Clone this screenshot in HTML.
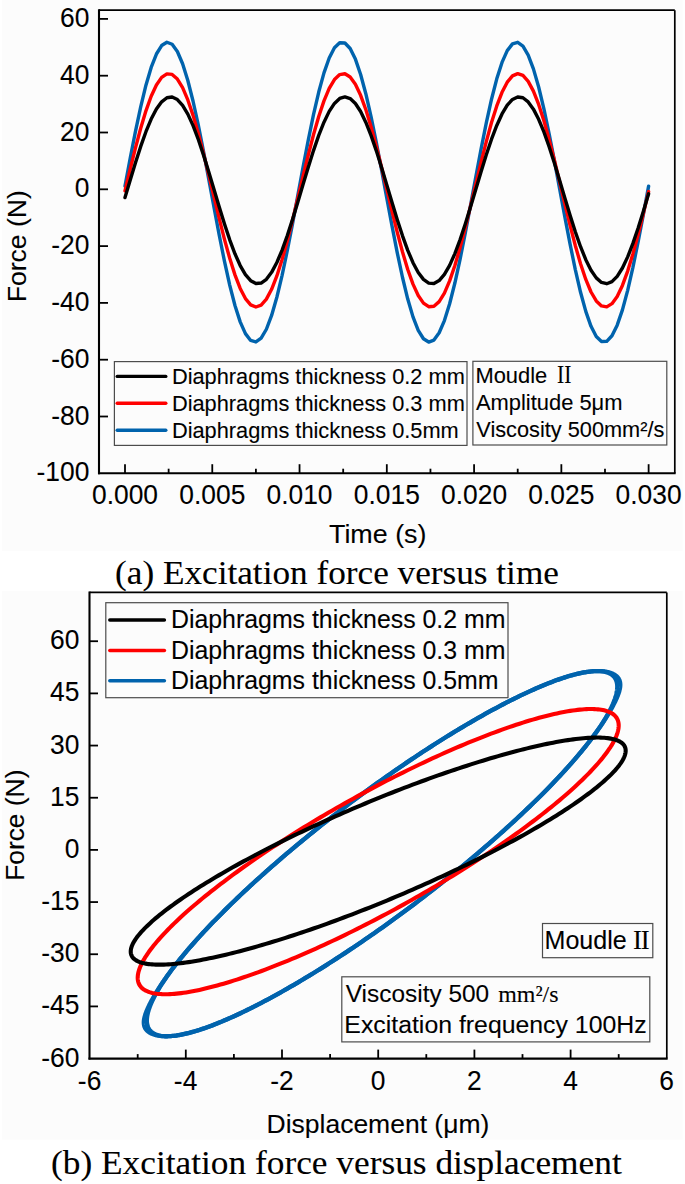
<!DOCTYPE html>
<html><head><meta charset="utf-8"><style>
html,body{margin:0;padding:0;background:#fff;}
svg{display:block;}

</style></head><body>
<svg width="685" height="1184" viewBox="0 0 685 1184">
<rect x="0" y="0" width="685" height="1184" fill="#ffffff"/>
<rect x="2" y="0" width="680.5" height="551" fill="#fcfcfc"/>
<rect x="2" y="591" width="680.5" height="548.5" fill="#fcfcfc"/>
<polyline points="125.00,186.14 130.24,158.17 135.47,131.41 140.71,106.79 145.94,85.20 151.18,67.40 156.42,54.01 161.65,45.52 166.89,42.23 172.13,44.24 177.36,51.49 182.60,63.73 187.83,80.51 193.07,101.25 198.31,125.21 203.54,151.54 208.78,179.31 214.02,207.53 219.25,235.21 224.49,261.36 229.72,285.06 234.96,305.47 240.20,321.86 245.43,333.66 250.67,340.44 255.91,341.97 261.14,338.19 266.38,329.24 271.61,315.43 276.85,297.26 282.09,275.36 287.32,250.51 292.56,223.59 297.79,195.56 303.03,167.41 308.27,140.14 313.50,114.70 318.74,92.01 323.98,72.87 329.21,57.95 334.45,47.79 339.68,42.74 344.92,42.98 350.16,48.51 355.39,59.12 360.63,74.45 365.87,93.94 371.10,116.92 376.34,142.56 381.57,169.95 386.81,198.14 392.05,226.11 397.28,252.87 402.52,277.49 407.75,299.08 412.99,316.88 418.23,330.27 423.46,338.76 428.70,342.05 433.94,340.04 439.17,332.79 444.41,320.55 449.64,303.77 454.88,283.03 460.12,259.07 465.35,232.74 470.59,204.97 475.83,176.75 481.06,149.07 486.30,122.92 491.53,99.22 496.77,78.81 502.01,62.42 507.24,50.62 512.48,43.84 517.71,42.31 522.95,46.09 528.19,55.04 533.42,68.85 538.66,87.02 543.90,108.92 549.13,133.77 554.37,160.69 559.60,188.72 564.84,216.87 570.08,244.14 575.31,269.58 580.55,292.27 585.79,311.41 591.02,326.33 596.26,336.49 601.49,341.54 606.73,341.30 611.97,335.77 617.20,325.16 622.44,309.83 627.68,290.34 632.91,267.36 638.15,241.72 643.38,214.33 648.62,186.14" fill="none" stroke="#0063ad" stroke-width="3.4" stroke-linejoin="round" stroke-linecap="round"/>
<polyline points="125.00,190.88 130.24,169.00 135.47,147.88 140.71,128.26 145.94,110.84 151.18,96.23 156.42,84.95 161.65,77.40 166.89,73.84 172.13,74.41 177.36,79.08 182.60,87.69 187.83,99.93 193.07,115.37 198.31,133.47 203.54,153.57 208.78,174.97 214.02,196.92 219.25,218.63 224.49,239.34 229.72,258.32 234.96,274.88 240.20,288.45 245.43,298.54 250.67,304.81 255.91,307.02 261.14,305.09 266.38,299.10 271.61,289.26 276.85,275.92 282.09,259.54 287.32,240.72 292.56,220.10 297.79,198.44 303.03,176.48 308.27,155.01 313.50,134.80 318.74,116.54 323.98,100.90 329.21,88.42 334.45,79.55 339.68,74.60 344.92,73.75 350.16,77.02 355.39,84.30 360.63,95.34 365.87,109.73 371.10,126.98 376.34,146.47 381.57,167.51 386.81,189.36 392.05,211.24 397.28,232.38 402.52,252.03 407.75,269.49 412.99,284.15 418.23,295.49 423.46,303.10 428.70,306.72 433.94,306.22 439.17,301.61 444.41,293.06 449.64,280.88 454.88,265.48 460.12,247.43 465.35,227.35 470.59,205.96 475.83,184.02 481.06,162.29 486.30,141.56 491.53,122.56 496.77,105.95 502.01,92.33 507.24,82.17 512.48,75.85 517.71,73.58 522.95,75.43 528.19,81.36 533.42,91.14 538.66,104.43 543.90,120.76 549.13,139.56 554.37,160.15 559.60,181.80 564.84,203.76 570.08,225.24 575.31,245.48 580.55,263.77 585.79,279.46 591.02,291.99 596.26,300.92 601.49,305.94 606.73,306.86 611.97,303.65 617.20,296.43 622.44,285.45 627.68,271.11 632.91,253.90 638.15,234.44 643.38,213.42 648.62,191.58" fill="none" stroke="#ff0000" stroke-width="3.4" stroke-linejoin="round" stroke-linecap="round"/>
<polyline points="125.00,197.57 130.24,179.95 135.47,162.70 140.71,146.43 145.94,131.72 151.18,119.09 156.42,109.00 161.65,101.79 166.89,97.74 172.13,96.98 177.36,99.54 182.60,105.33 187.83,114.14 193.07,125.66 198.31,139.48 203.54,155.10 208.78,171.98 214.02,189.51 219.25,207.07 224.49,224.03 229.72,239.79 234.96,253.79 240.20,265.53 245.43,274.60 250.67,280.66 255.91,283.51 261.14,283.05 266.38,279.28 271.61,272.35 276.85,262.50 282.09,250.08 287.32,235.53 292.56,219.38 297.79,202.19 303.03,184.57 308.27,167.16 313.50,150.58 318.74,135.40 323.98,122.18 329.21,111.38 334.45,103.39 339.68,98.49 344.92,96.86 350.16,98.55 355.39,103.50 360.63,111.55 365.87,122.39 371.10,135.65 376.34,150.85 381.57,167.46 386.81,184.88 392.05,202.49 397.28,219.67 402.52,235.80 407.75,250.31 412.99,262.69 418.23,272.50 423.46,279.37 428.70,283.08 433.94,283.49 439.17,280.59 444.41,274.47 449.64,265.35 454.88,253.57 460.12,239.53 465.35,223.75 470.59,206.77 475.83,189.21 481.06,171.68 486.30,154.82 491.53,139.22 496.77,125.44 502.01,113.96 507.24,105.20 512.48,99.47 517.71,96.97 522.95,97.78 528.19,101.89 533.42,109.15 538.66,119.29 543.90,131.96 549.13,146.70 554.37,162.99 559.60,180.26 564.84,197.88 570.08,215.23 575.31,231.70 580.55,246.69 585.79,259.67 591.02,270.19 596.26,277.87 601.49,282.43 606.73,283.71 611.97,281.67 617.20,276.38 622.44,268.02 627.68,256.90 632.91,243.41 638.15,228.03 643.38,211.31 648.62,193.84" fill="none" stroke="#000000" stroke-width="3.4" stroke-linejoin="round" stroke-linecap="round"/>
<line x1="99.00" y1="10.20" x2="674.80" y2="10.20" stroke="#000" stroke-width="1.7" stroke-linecap="butt"/>
<line x1="674.80" y1="10.20" x2="674.80" y2="473.20" stroke="#000" stroke-width="1.7" stroke-linecap="butt"/>
<line x1="99.00" y1="9.35" x2="99.00" y2="474.20" stroke="#000" stroke-width="2.1" stroke-linecap="butt"/>
<line x1="98.00" y1="473.20" x2="675.65" y2="473.20" stroke="#000" stroke-width="2.1" stroke-linecap="butt"/>
<line x1="99.00" y1="18.90" x2="108.00" y2="18.90" stroke="#000" stroke-width="1.8" stroke-linecap="butt"/>
<text x="60.07" y="26.90" style='font-family:"Liberation Sans", sans-serif' font-size="27.60" textLength="29.36" lengthAdjust="spacingAndGlyphs" fill="#000" stroke="#000" stroke-width="0.1">60</text>
<line x1="99.00" y1="75.70" x2="108.00" y2="75.70" stroke="#000" stroke-width="1.8" stroke-linecap="butt"/>
<text x="60.07" y="83.70" style='font-family:"Liberation Sans", sans-serif' font-size="27.60" textLength="29.36" lengthAdjust="spacingAndGlyphs" fill="#000" stroke="#000" stroke-width="0.1">40</text>
<line x1="99.00" y1="132.50" x2="108.00" y2="132.50" stroke="#000" stroke-width="1.8" stroke-linecap="butt"/>
<text x="60.07" y="140.50" style='font-family:"Liberation Sans", sans-serif' font-size="27.60" textLength="29.36" lengthAdjust="spacingAndGlyphs" fill="#000" stroke="#000" stroke-width="0.1">20</text>
<line x1="99.00" y1="189.30" x2="108.00" y2="189.30" stroke="#000" stroke-width="1.8" stroke-linecap="butt"/>
<text x="74.75" y="197.30" style='font-family:"Liberation Sans", sans-serif' font-size="27.60" textLength="14.68" lengthAdjust="spacingAndGlyphs" fill="#000" stroke="#000" stroke-width="0.1">0</text>
<line x1="99.00" y1="246.10" x2="108.00" y2="246.10" stroke="#000" stroke-width="1.8" stroke-linecap="butt"/>
<text x="51.28" y="254.10" style='font-family:"Liberation Sans", sans-serif' font-size="27.60" textLength="38.16" lengthAdjust="spacingAndGlyphs" fill="#000" stroke="#000" stroke-width="0.1">-20</text>
<line x1="99.00" y1="302.90" x2="108.00" y2="302.90" stroke="#000" stroke-width="1.8" stroke-linecap="butt"/>
<text x="51.28" y="310.90" style='font-family:"Liberation Sans", sans-serif' font-size="27.60" textLength="38.16" lengthAdjust="spacingAndGlyphs" fill="#000" stroke="#000" stroke-width="0.1">-40</text>
<line x1="99.00" y1="359.70" x2="108.00" y2="359.70" stroke="#000" stroke-width="1.8" stroke-linecap="butt"/>
<text x="51.28" y="367.70" style='font-family:"Liberation Sans", sans-serif' font-size="27.60" textLength="38.16" lengthAdjust="spacingAndGlyphs" fill="#000" stroke="#000" stroke-width="0.1">-60</text>
<line x1="99.00" y1="416.50" x2="108.00" y2="416.50" stroke="#000" stroke-width="1.8" stroke-linecap="butt"/>
<text x="51.28" y="424.50" style='font-family:"Liberation Sans", sans-serif' font-size="27.60" textLength="38.16" lengthAdjust="spacingAndGlyphs" fill="#000" stroke="#000" stroke-width="0.1">-80</text>
<text x="36.59" y="481.30" style='font-family:"Liberation Sans", sans-serif' font-size="27.60" textLength="52.84" lengthAdjust="spacingAndGlyphs" fill="#000" stroke="#000" stroke-width="0.1">-100</text>
<line x1="125.00" y1="473.20" x2="125.00" y2="464.20" stroke="#000" stroke-width="1.8" stroke-linecap="butt"/>
<text x="91.97" y="504.00" style='font-family:"Liberation Sans", sans-serif' font-size="27.60" textLength="66.06" lengthAdjust="spacingAndGlyphs" fill="#000" stroke="#000" stroke-width="0.1">0.000</text>
<line x1="212.27" y1="473.20" x2="212.27" y2="464.20" stroke="#000" stroke-width="1.8" stroke-linecap="butt"/>
<text x="179.28" y="504.00" style='font-family:"Liberation Sans", sans-serif' font-size="27.60" textLength="66.06" lengthAdjust="spacingAndGlyphs" fill="#000" stroke="#000" stroke-width="0.1">0.005</text>
<line x1="299.54" y1="473.20" x2="299.54" y2="464.20" stroke="#000" stroke-width="1.8" stroke-linecap="butt"/>
<text x="266.51" y="504.00" style='font-family:"Liberation Sans", sans-serif' font-size="27.60" textLength="66.06" lengthAdjust="spacingAndGlyphs" fill="#000" stroke="#000" stroke-width="0.1">0.010</text>
<line x1="386.81" y1="473.20" x2="386.81" y2="464.20" stroke="#000" stroke-width="1.8" stroke-linecap="butt"/>
<text x="353.82" y="504.00" style='font-family:"Liberation Sans", sans-serif' font-size="27.60" textLength="66.06" lengthAdjust="spacingAndGlyphs" fill="#000" stroke="#000" stroke-width="0.1">0.015</text>
<line x1="474.08" y1="473.20" x2="474.08" y2="464.20" stroke="#000" stroke-width="1.8" stroke-linecap="butt"/>
<text x="441.05" y="504.00" style='font-family:"Liberation Sans", sans-serif' font-size="27.60" textLength="66.06" lengthAdjust="spacingAndGlyphs" fill="#000" stroke="#000" stroke-width="0.1">0.020</text>
<line x1="561.35" y1="473.20" x2="561.35" y2="464.20" stroke="#000" stroke-width="1.8" stroke-linecap="butt"/>
<text x="528.36" y="504.00" style='font-family:"Liberation Sans", sans-serif' font-size="27.60" textLength="66.06" lengthAdjust="spacingAndGlyphs" fill="#000" stroke="#000" stroke-width="0.1">0.025</text>
<line x1="648.62" y1="473.20" x2="648.62" y2="464.20" stroke="#000" stroke-width="1.8" stroke-linecap="butt"/>
<text x="615.59" y="504.00" style='font-family:"Liberation Sans", sans-serif' font-size="27.60" textLength="66.06" lengthAdjust="spacingAndGlyphs" fill="#000" stroke="#000" stroke-width="0.1">0.030</text>
<line x1="168.63" y1="473.20" x2="168.63" y2="468.70" stroke="#000" stroke-width="1.8" stroke-linecap="butt"/>
<line x1="255.91" y1="473.20" x2="255.91" y2="468.70" stroke="#000" stroke-width="1.8" stroke-linecap="butt"/>
<line x1="343.18" y1="473.20" x2="343.18" y2="468.70" stroke="#000" stroke-width="1.8" stroke-linecap="butt"/>
<line x1="430.45" y1="473.20" x2="430.45" y2="468.70" stroke="#000" stroke-width="1.8" stroke-linecap="butt"/>
<line x1="517.71" y1="473.20" x2="517.71" y2="468.70" stroke="#000" stroke-width="1.8" stroke-linecap="butt"/>
<line x1="604.99" y1="473.20" x2="604.99" y2="468.70" stroke="#000" stroke-width="1.8" stroke-linecap="butt"/>
<text x="329.00" y="542.90" style='font-family:"Liberation Sans", sans-serif' font-size="26.40" textLength="97.45" lengthAdjust="spacingAndGlyphs" fill="#000" stroke="#000" stroke-width="0.1">Time (s)</text>
<text transform="translate(26.00,302.28) rotate(-90)" x="0" y="0" style='font-family:"Liberation Sans", sans-serif' font-size="26.40" textLength="112.13" lengthAdjust="spacingAndGlyphs" fill="#000" stroke="#000" stroke-width="0.1">Force (N)</text>
<rect x="114.40" y="361.60" width="352.60" height="83.80" stroke="#4c4c4c" stroke-width="1.2" fill="none"/>
<line x1="117.20" y1="376.40" x2="165.80" y2="376.40" stroke="#000000" stroke-width="3.4" stroke-linecap="round"/>
<line x1="117.20" y1="403.30" x2="165.80" y2="403.30" stroke="#ff0000" stroke-width="3.4" stroke-linecap="round"/>
<line x1="117.20" y1="430.30" x2="165.80" y2="430.30" stroke="#0063ad" stroke-width="3.4" stroke-linecap="round"/>
<text x="171.91" y="383.80" style='font-family:"Liberation Sans", sans-serif' font-size="21.80" textLength="292.92" lengthAdjust="spacingAndGlyphs" fill="#000" stroke="#000" stroke-width="0.1">Diaphragms thickness 0.2 mm</text>
<text x="171.91" y="410.80" style='font-family:"Liberation Sans", sans-serif' font-size="21.80" textLength="292.92" lengthAdjust="spacingAndGlyphs" fill="#000" stroke="#000" stroke-width="0.1">Diaphragms thickness 0.3 mm</text>
<text x="171.91" y="437.80" style='font-family:"Liberation Sans", sans-serif' font-size="21.80" textLength="286.87" lengthAdjust="spacingAndGlyphs" fill="#000" stroke="#000" stroke-width="0.1">Diaphragms thickness 0.5mm</text>
<rect x="472.90" y="361.30" width="193.90" height="83.70" stroke="#4c4c4c" stroke-width="1.2" fill="none"/>
<text x="475.41" y="383.40" style='font-family:"Liberation Sans", sans-serif' font-size="22.20" textLength="71.77" lengthAdjust="spacingAndGlyphs" fill="#000" stroke="#000" stroke-width="0.1">Moudle</text>
<text x="557.03" y="383.40" style='font-family:"Liberation Serif", serif' font-size="25.60" textLength="7.13" lengthAdjust="spacingAndGlyphs" fill="#000" stroke="#000" stroke-width="0.1">I</text>
<text x="564.33" y="383.40" style='font-family:"Liberation Serif", serif' font-size="25.60" textLength="7.13" lengthAdjust="spacingAndGlyphs" fill="#000" stroke="#000" stroke-width="0.1">I</text>
<text x="475.96" y="410.30" style='font-family:"Liberation Sans", sans-serif' font-size="22.20" textLength="146.49" lengthAdjust="spacingAndGlyphs" fill="#000" stroke="#000" stroke-width="0.1">Amplitude 5μm</text>
<text x="476.30" y="436.60" style='font-family:"Liberation Sans", sans-serif' font-size="22.20" textLength="188.08" lengthAdjust="spacingAndGlyphs" fill="#000" stroke="#000" stroke-width="0.1">Viscosity 500mm²/s</text>
<text x="115.05" y="584.20" style='font-family:"Liberation Serif", serif' font-size="33.00" textLength="443.87" lengthAdjust="spacingAndGlyphs" fill="#000" stroke="#000" stroke-width="0.1">(a) Excitation force versus time</text>
<polyline points="382.05,779.68 386.15,776.78 390.26,773.90 394.36,771.04 398.46,768.21 402.55,765.41 406.63,762.63 410.71,759.89 414.78,757.17 418.84,754.48 422.89,751.81 426.93,749.19 430.95,746.59 434.96,744.02 438.95,741.49 442.92,738.99 446.88,736.53 450.82,734.10 454.73,731.71 458.62,729.36 462.49,727.04 466.34,724.77 470.16,722.53 473.95,720.33 477.72,718.18 481.45,716.06 485.16,713.99 488.83,711.95 492.47,709.97 496.08,708.02 499.65,706.12 503.19,704.27 506.69,702.46 510.15,700.69 513.58,698.98 516.96,697.31 520.30,695.68 523.60,694.11 526.86,692.58 530.07,691.11 533.24,689.68 536.36,688.30 539.43,686.98 542.46,685.70 545.44,684.48 548.37,683.30 551.24,682.18 554.07,681.11 556.84,680.10 559.56,679.13 562.23,678.22 564.84,677.37 567.40,676.56 569.89,675.81 572.34,675.12 574.72,674.48 577.05,673.89 579.31,673.36 581.52,672.88 583.66,672.46 585.74,672.10 587.77,671.78 589.73,671.53 591.62,671.33 593.45,671.18 595.22,671.09 596.92,671.06 598.56,671.08 600.13,671.16 601.63,671.30 603.07,671.48 604.44,671.73 605.75,672.03 606.98,672.38 608.15,672.79 609.24,673.26 610.27,673.78 611.23,674.36 612.12,674.99 612.94,675.67 613.68,676.41 614.36,677.20 614.97,678.05 615.50,678.95 615.97,679.90 616.36,680.91 616.68,681.96 616.93,683.08 617.11,684.24 617.22,685.45 617.26,686.72 617.22,688.03 617.11,689.40 616.93,690.82 616.68,692.29 616.36,693.80 615.97,695.37 615.50,696.98 614.97,698.64 614.36,700.35 613.68,702.10 612.94,703.90 612.12,705.75 611.23,707.64 610.27,709.57 609.24,711.55 608.15,713.58 606.98,715.64 605.75,717.75 604.44,719.90 603.07,722.09 601.63,724.32 600.13,726.59 598.56,728.89 596.92,731.24 595.22,733.62 593.45,736.04 591.62,738.50 589.73,740.99 587.77,743.51 585.74,746.07 583.66,748.66 581.52,751.29 579.31,753.94 577.05,756.63 574.72,759.34 572.34,762.08 569.89,764.85 567.40,767.65 564.84,770.48 562.23,773.33 559.56,776.20 556.84,779.10 554.07,782.02 551.24,784.96 548.37,787.92 545.44,790.91 542.46,793.91 539.43,796.93 536.36,799.97 533.24,803.02 530.07,806.09 526.86,809.17 523.60,812.27 520.30,815.38 516.96,818.50 513.58,821.64 510.15,824.78 506.69,827.93 503.19,831.09 499.65,834.25 496.08,837.42 492.47,840.60 488.83,843.78 485.16,846.97 481.45,850.15 477.72,853.34 473.95,856.52 470.16,859.71 466.34,862.89 462.49,866.08 458.62,869.25 454.73,872.43 450.82,875.59 446.88,878.75 442.92,881.91 438.95,885.05 434.96,888.18 430.95,891.31 426.93,894.42 422.89,897.52 418.84,900.61 414.78,903.68 410.71,906.74 406.63,909.78 402.55,912.80 398.46,915.81 394.36,918.79 390.26,921.76 386.15,924.71 382.05,927.63 377.94,930.54 373.84,933.41 369.74,936.27 365.64,939.10 361.55,941.90 357.46,944.68 353.38,947.43 349.31,950.15 345.25,952.84 341.20,955.50 337.17,958.13 333.15,960.72 329.14,963.29 325.15,965.82 321.17,968.32 317.22,970.78 313.28,973.21 309.36,975.60 305.47,977.95 301.60,980.27 297.76,982.54 293.94,984.78 290.14,986.98 286.38,989.14 282.64,991.25 278.94,993.33 275.27,995.36 271.62,997.35 268.02,999.29 264.44,1001.19 260.91,1003.05 257.41,1004.86 253.94,1006.62 250.52,1008.34 247.14,1010.01 243.80,1011.63 240.50,1013.20 237.24,1014.73 234.03,1016.20 230.86,1017.63 227.74,1019.01 224.66,1020.34 221.64,1021.61 218.66,1022.84 215.73,1024.01 212.85,1025.13 210.03,1026.20 207.25,1027.22 204.53,1028.18 201.87,1029.09 199.26,1029.95 196.70,1030.75 194.20,1031.50 191.76,1032.19 189.38,1032.84 187.05,1033.42 184.79,1033.95 182.58,1034.43 180.43,1034.85 178.35,1035.22 176.33,1035.53 174.37,1035.78 172.48,1035.98 170.64,1036.13 168.88,1036.22 167.17,1036.25 165.54,1036.23 163.97,1036.15 162.46,1036.02 161.02,1035.83 159.65,1035.58 158.35,1035.28 157.12,1034.93 155.95,1034.52 154.85,1034.05 153.83,1033.53 152.87,1032.96 151.98,1032.33 151.16,1031.64 150.41,1030.90 149.73,1030.11 149.13,1029.27 148.59,1028.37 148.13,1027.41 147.73,1026.41 147.41,1025.35 147.16,1024.24 146.98,1023.07 146.87,1021.86 146.84,1020.59 146.87,1019.28 146.98,1017.91 147.16,1016.49 147.41,1015.03 147.73,1013.51 148.13,1011.95 148.59,1010.33 149.13,1008.67 149.73,1006.97 150.41,1005.21 151.16,1003.41 151.98,1001.57 152.87,999.67 153.83,997.74 154.85,995.76 155.95,993.74 157.12,991.67 158.35,989.56 159.65,987.41 161.02,985.23 162.46,983.00 163.97,980.73 165.54,978.42 167.17,976.07 168.88,973.69 170.64,971.27 172.48,968.81 174.37,966.32 176.33,963.80 178.35,961.24 180.43,958.65 182.58,956.03 184.79,953.37 187.05,950.69 189.38,947.97 191.76,945.23 194.20,942.46 196.70,939.66 199.26,936.84 201.87,933.99 204.53,931.11 207.25,928.22 210.03,925.30 212.85,922.35 215.73,919.39 218.66,916.41 221.64,913.40 224.66,910.38 227.74,907.35 230.86,904.29 234.03,901.22 237.24,898.14 240.50,895.04 243.80,891.93 247.14,888.81 250.52,885.68 253.94,882.54 257.41,879.38 260.91,876.23 264.44,873.06 268.02,869.89 271.62,866.71 275.27,863.53 278.94,860.35 282.64,857.16 286.38,853.97 290.14,850.79 293.94,847.60 297.76,844.42 301.60,841.24 305.47,838.06 309.36,834.89 313.28,831.72 317.22,828.56 321.17,825.41 325.15,822.26 329.14,819.13 333.15,816.00 337.17,812.89 341.20,809.79 345.25,806.71 349.31,803.63 353.38,800.58 357.46,797.53 361.55,794.51 365.64,791.50 369.74,788.52 373.84,785.55 377.94,782.60 382.05,779.68" fill="none" stroke="#0063ad" stroke-width="4.3" stroke-linejoin="round" stroke-linecap="round"/>
<polyline points="382.05,779.68 384.10,778.23 386.15,776.78 388.21,775.33 390.26,773.90 392.31,772.47 394.36,771.04 396.41,769.63 398.46,768.21 400.50,766.81 402.55,765.41 404.59,764.02 406.63,762.63 408.67,761.26 410.71,759.89 412.75,758.52 414.78,757.17 416.81,755.82 418.84,754.48 420.87,753.14 422.89,751.81 424.91,750.50 426.93,749.19 428.94,747.88 430.95,746.59 432.96,745.30 434.96,744.02 436.96,742.75 438.95,741.49 440.94,740.24 442.92,738.99 444.90,737.76 446.88,736.53 448.85,735.31 450.82,734.10 452.78,732.90 454.73,731.71 456.68,730.53 458.62,729.36 460.56,728.20 462.49,727.04 464.42,725.90 466.34,724.77 468.25,723.64 470.16,722.53 472.06,721.43 473.95,720.33 475.84,719.25 477.72,718.18 479.59,717.11 481.45,716.06 483.31,715.02 485.16,713.99 487.00,712.96 488.83,711.95 490.66,710.95 492.47,709.97 494.28,708.99 496.08,708.02 497.87,707.07 499.65,706.12 501.43,705.19 503.19,704.27 504.94,703.36 506.69,702.46 508.43,701.57 510.15,700.69 511.87,699.83 513.58,698.98 515.27,698.14 516.96,697.31 518.63,696.49 520.30,695.68 521.96,694.89 523.60,694.11 525.23,693.34 526.86,692.58 528.47,691.84 530.07,691.11 531.66,690.39 533.24,689.68 534.81,688.99 536.36,688.30 537.90,687.63 539.44,686.98 540.96,686.33 542.46,685.70 543.96,685.08 545.44,684.48 546.91,683.88 548.37,683.30 549.82,682.74 551.25,682.18 552.67,681.64 554.08,681.11 555.48,680.60 556.86,680.10 558.23,679.61 559.58,679.13 560.93,678.67 562.26,678.22 563.57,677.79 564.88,677.37 566.17,676.96 567.44,676.56 568.71,676.18 569.96,675.81 571.19,675.46 572.42,675.12 573.63,674.79 574.82,674.48 576.01,674.18 577.18,673.89 578.33,673.62 579.47,673.36 580.60,673.11 581.72,672.88 582.82,672.67 583.91,672.46 584.99,672.27 586.05,672.10 587.10,671.93 588.14,671.78 589.16,671.65 590.17,671.53 591.17,671.42 592.16,671.33 593.13,671.25 594.09,671.18 595.03,671.13 595.96,671.09 596.88,671.07 597.79,671.06 598.68,671.07 599.56,671.08 600.43,671.12 601.28,671.16 602.12,671.22 602.94,671.30 603.75,671.38 604.54,671.48 605.32,671.60 606.09,671.73 606.84,671.87 607.57,672.03 608.29,672.20 608.99,672.38 609.67,672.58 610.34,672.79 610.98,673.02 611.61,673.26 612.22,673.51 612.81,673.78 613.39,674.06 613.94,674.36 614.47,674.66 614.98,674.99 615.47,675.32 615.93,675.67 616.38,676.03 616.80,676.41 617.20,676.80 617.57,677.20 617.92,677.62 618.25,678.05 618.55,678.49 618.83,678.95 619.09,679.42 619.32,679.90 619.52,680.40 619.70,680.91 619.86,681.43 619.99,681.96 620.10,682.51 620.18,683.08 620.24,683.65 620.27,684.24 620.29,684.84 620.27,685.45 620.24,686.08 620.18,686.72 620.10,687.37 620.00,688.03 619.88,688.71 619.73,689.40 619.57,690.10 619.39,690.82 619.18,691.55 618.96,692.29 618.71,693.04 618.45,693.80 618.17,694.58 617.88,695.37 617.56,696.17 617.23,696.98 616.88,697.80 616.52,698.64 616.14,699.49 615.74,700.35 615.33,701.22 614.90,702.10 614.46,702.99 614.00,703.90 613.53,704.82 613.05,705.75 612.55,706.69 612.03,707.64 611.50,708.60 610.96,709.57 610.40,710.56 609.82,711.55 609.24,712.56 608.63,713.58 608.02,714.60 607.39,715.64 606.74,716.69 606.08,717.75 605.41,718.82 604.72,719.90 604.02,720.99 603.30,722.09 602.56,723.20 601.82,724.32 601.05,725.45 600.28,726.59 599.48,727.74 598.68,728.89 597.85,730.06 597.01,731.24 596.16,732.43 595.29,733.62 594.41,734.83 593.51,736.04 592.59,737.27 591.66,738.50 590.72,739.74 589.76,740.99 588.78,742.25 587.79,743.51 586.78,744.79 585.76,746.07 584.73,747.36 583.68,748.66 582.61,749.97 581.53,751.29 580.43,752.61 579.32,753.94 578.19,755.28 577.05,756.63 575.89,757.98 574.72,759.34 573.54,760.71 572.34,762.08 571.12,763.46 569.90,764.85 568.65,766.25 567.40,767.65 566.13,769.06 564.84,770.48 563.54,771.90 562.23,773.33 560.90,774.76 559.56,776.20 558.21,777.65 556.84,779.10 555.46,780.55 554.07,782.02 552.66,783.49 551.24,784.96 549.81,786.44 548.37,787.92 546.91,789.41 545.44,790.91 543.96,792.40 542.46,793.91 540.95,795.42 539.43,796.93 537.90,798.45 536.36,799.97 534.80,801.49 533.24,803.02 531.66,804.55 530.07,806.09 528.47,807.63 526.86,809.17 525.23,810.72 523.60,812.27 521.96,813.82 520.30,815.38 518.63,816.94 516.96,818.50 515.27,820.07 513.58,821.64 511.87,823.21 510.15,824.78 508.43,826.35 506.69,827.93 504.94,829.51 503.19,831.09 501.43,832.67 499.65,834.25 497.87,835.84 496.08,837.42 494.28,839.01 492.47,840.60 490.66,842.19 488.83,843.78 487.00,845.37 485.16,846.97 483.31,848.56 481.45,850.15 479.59,851.74 477.72,853.34 475.84,854.93 473.95,856.52 472.06,858.12 470.16,859.71 468.25,861.30 466.34,862.89 464.42,864.49 462.49,866.08 460.56,867.66 458.62,869.25 456.68,870.84 454.73,872.43 452.78,874.01 450.82,875.59 448.85,877.17 446.88,878.75 444.90,880.33 442.92,881.91 440.94,883.48 438.95,885.05 436.96,886.62 434.96,888.18 432.96,889.75 430.95,891.31 428.94,892.87 426.93,894.42 424.91,895.97 422.89,897.52 420.87,899.07 418.84,900.61 416.81,902.15 414.78,903.68 412.75,905.21 410.71,906.74 408.67,908.26 406.63,909.78 404.59,911.29 402.55,912.80 400.50,914.31 398.46,915.81 396.41,917.30 394.36,918.79 392.31,920.28 390.26,921.76 388.21,923.24 386.15,924.71 384.10,926.17 382.05,927.63 380.00,929.09 377.94,930.54 375.89,931.98 373.84,933.41 371.79,934.84 369.74,936.27 367.69,937.69 365.64,939.10 363.59,940.50 361.55,941.90 359.50,943.29 357.46,944.68 355.42,946.06 353.38,947.43 351.35,948.79 349.31,950.15 347.28,951.50 345.25,952.84 343.23,954.17 341.20,955.50 339.18,956.82 337.17,958.13 335.15,959.43 333.15,960.72 331.14,962.01 329.14,963.29 327.14,964.56 325.15,965.82 323.16,967.07 321.17,968.32 319.19,969.55 317.22,970.78 315.25,972.00 313.28,973.21 311.32,974.41 309.36,975.60 307.42,976.78 305.47,977.95 303.53,979.11 301.60,980.27 299.68,981.41 297.76,982.54 295.84,983.67 293.94,984.78 292.04,985.89 290.14,986.98 288.26,988.06 286.38,989.14 284.51,990.20 282.64,991.25 280.79,992.30 278.94,993.33 277.10,994.35 275.27,995.36 273.44,996.36 271.62,997.35 269.82,998.32 268.02,999.29 266.23,1000.25 264.44,1001.19 262.67,1002.12 260.91,1003.05 259.15,1003.96 257.41,1004.86 255.67,1005.74 253.94,1006.62 252.23,1007.48 250.52,1008.34 248.82,1009.18 247.14,1010.01 245.46,1010.82 243.80,1011.63 242.14,1012.42 240.50,1013.20 238.86,1013.97 237.24,1014.73 235.63,1015.47 234.03,1016.20 232.44,1016.92 230.86,1017.63 229.29,1018.33 227.74,1019.01 226.19,1019.68 224.66,1020.34 223.14,1020.98 221.63,1021.61 220.14,1022.23 218.65,1022.84 217.18,1023.43 215.72,1024.01 214.28,1024.58 212.84,1025.13 211.42,1025.67 210.02,1026.20 208.62,1026.71 207.24,1027.22 205.87,1027.70 204.51,1028.18 203.17,1028.64 201.84,1029.09 200.52,1029.52 199.22,1029.95 197.93,1030.36 196.65,1030.75 195.39,1031.13 194.14,1031.50 192.90,1031.85 191.68,1032.19 190.47,1032.52 189.27,1032.84 188.09,1033.14 186.92,1033.42 185.76,1033.69 184.62,1033.95 183.49,1034.20 182.38,1034.43 181.27,1034.65 180.18,1034.85 179.11,1035.04 178.04,1035.22 176.99,1035.38 175.96,1035.53 174.93,1035.66 173.92,1035.78 172.92,1035.89 171.94,1035.98 170.97,1036.06 170.01,1036.13 169.06,1036.18 168.13,1036.22 167.21,1036.24 166.31,1036.25 165.41,1036.25 164.53,1036.23 163.67,1036.20 162.82,1036.15 161.98,1036.09 161.16,1036.02 160.35,1035.93 159.55,1035.83 158.77,1035.71 158.01,1035.58 157.26,1035.44 156.53,1035.28 155.81,1035.11 155.11,1034.93 154.43,1034.73 153.76,1034.52 153.11,1034.29 152.48,1034.05 151.87,1033.80 151.28,1033.53 150.71,1033.25 150.16,1032.96 149.63,1032.65 149.12,1032.33 148.63,1031.99 148.16,1031.64 147.72,1031.28 147.30,1030.90 146.90,1030.51 146.52,1030.11 146.17,1029.70 145.85,1029.27 145.54,1028.82 145.26,1028.37 145.01,1027.90 144.78,1027.41 144.57,1026.92 144.39,1026.41 144.24,1025.88 144.11,1025.35 144.00,1024.80 143.92,1024.24 143.86,1023.66 143.82,1023.07 143.81,1022.47 143.82,1021.86 143.86,1021.23 143.91,1020.59 143.99,1019.94 144.09,1019.28 144.22,1018.60 144.36,1017.91 144.53,1017.21 144.71,1016.49 144.92,1015.77 145.14,1015.03 145.38,1014.28 145.64,1013.51 145.92,1012.74 146.22,1011.95 146.53,1011.15 146.87,1010.33 147.21,1009.51 147.58,1008.67 147.96,1007.83 148.35,1006.97 148.77,1006.10 149.19,1005.21 149.63,1004.32 150.09,1003.41 150.56,1002.49 151.05,1001.57 151.55,1000.63 152.07,999.67 152.60,998.71 153.14,997.74 153.70,996.75 154.27,995.76 154.86,994.75 155.46,993.74 156.08,992.71 156.71,991.67 157.35,990.62 158.01,989.56 158.69,988.49 159.38,987.41 160.08,986.33 160.80,985.23 161.53,984.12 162.28,983.00 163.04,981.87 163.82,980.73 164.61,979.58 165.42,978.42 166.24,977.25 167.08,976.07 167.94,974.89 168.80,973.69 169.69,972.48 170.59,971.27 171.50,970.05 172.43,968.81 173.38,967.57 174.34,966.32 175.31,965.07 176.30,963.80 177.31,962.52 178.33,961.24 179.37,959.95 180.42,958.65 181.49,957.34 182.57,956.03 183.67,954.70 184.78,953.37 185.90,952.03 187.05,950.69 188.20,949.33 189.37,947.97 190.56,946.60 191.76,945.23 192.97,943.85 194.20,942.46 195.44,941.06 196.70,939.66 197.97,938.25 199.26,936.84 200.55,935.41 201.87,933.99 203.19,932.55 204.53,931.11 205.89,929.67 207.25,928.22 208.63,926.76 210.03,925.30 211.43,923.83 212.85,922.35 214.28,920.87 215.73,919.39 217.19,917.90 218.66,916.41 220.14,914.91 221.64,913.40 223.14,911.90 224.66,910.38 226.19,908.87 227.74,907.35 229.29,905.82 230.86,904.29 232.44,902.76 234.03,901.22 235.63,899.68 237.24,898.14 238.86,896.59 240.50,895.04 242.14,893.49 243.80,891.93 245.46,890.37 247.14,888.81 248.82,887.24 250.52,885.68 252.23,884.11 253.94,882.54 255.67,880.96 257.41,879.38 259.15,877.81 260.91,876.23 262.67,874.64 264.44,873.06 266.23,871.47 268.02,869.89 269.82,868.30 271.62,866.71 273.44,865.12 275.27,863.53 277.10,861.94 278.94,860.35 280.79,858.75 282.64,857.16 284.51,855.57 286.38,853.97 288.26,852.38 290.14,850.79 292.04,849.20 293.94,847.60 295.84,846.01 297.76,844.42 299.68,842.83 301.60,841.24 303.53,839.65 305.47,838.06 307.42,836.47 309.36,834.89 311.32,833.30 313.28,831.72 315.25,830.14 317.22,828.56 319.19,826.98 321.17,825.41 323.16,823.83 325.15,822.26 327.14,820.69 329.14,819.13 331.14,817.56 333.15,816.00 335.15,814.45 337.17,812.89 339.18,811.34 341.20,809.79 343.23,808.25 345.25,806.71 347.28,805.17 349.31,803.63 351.35,802.10 353.38,800.58 355.42,799.05 357.46,797.53 359.50,796.02 361.55,794.51 363.59,793.01 365.64,791.50 367.69,790.01 369.74,788.52 371.79,787.03 373.84,785.55 375.89,784.07 377.94,782.60 380.00,781.14 382.05,779.68" fill="none" stroke="#0063ad" stroke-width="4.3" stroke-linejoin="round" stroke-linecap="round"/>
<polyline points="378.20,785.13 382.40,782.94 386.59,780.77 390.79,778.62 394.98,776.50 399.16,774.39 403.34,772.31 407.51,770.26 411.67,768.23 415.82,766.22 419.96,764.24 424.09,762.29 428.20,760.36 432.30,758.46 436.38,756.59 440.45,754.75 444.49,752.94 448.52,751.16 452.52,749.41 456.50,747.69 460.46,746.00 464.39,744.35 468.29,742.72 472.17,741.13 476.02,739.58 479.84,738.06 483.63,736.57 487.38,735.12 491.11,733.70 494.80,732.32 498.45,730.97 502.07,729.67 505.65,728.40 509.19,727.16 512.69,725.97 516.15,724.81 519.56,723.69 522.94,722.61 526.27,721.57 529.55,720.57 532.79,719.61 535.98,718.69 539.13,717.81 542.22,716.97 545.27,716.17 548.26,715.42 551.20,714.70 554.09,714.03 556.93,713.40 559.71,712.81 562.43,712.26 565.10,711.76 567.72,711.29 570.27,710.88 572.77,710.50 575.21,710.17 577.58,709.88 579.90,709.63 582.16,709.42 584.35,709.26 586.48,709.15 588.55,709.07 590.55,709.04 592.49,709.05 594.36,709.11 596.17,709.21 597.91,709.35 599.58,709.54 601.19,709.77 602.73,710.04 604.20,710.36 605.60,710.72 606.93,711.12 608.19,711.57 609.38,712.05 610.51,712.58 611.56,713.16 612.54,713.77 613.44,714.43 614.28,715.13 615.05,715.87 615.74,716.65 616.36,717.47 616.91,718.33 617.38,719.24 617.78,720.18 618.11,721.17 618.37,722.19 618.55,723.26 618.66,724.36 618.70,725.50 618.66,726.68 618.55,727.90 618.37,729.15 618.11,730.45 617.78,731.78 617.38,733.14 616.91,734.54 616.36,735.98 615.74,737.46 615.05,738.96 614.28,740.51 613.44,742.08 612.54,743.69 611.56,745.34 610.51,747.01 609.38,748.72 608.19,750.46 606.93,752.22 605.60,754.02 604.20,755.85 602.73,757.71 601.19,759.60 599.58,761.51 597.91,763.46 596.17,765.42 594.36,767.42 592.49,769.44 590.55,771.49 588.55,773.56 586.48,775.65 584.35,777.77 582.16,779.91 579.90,782.07 577.58,784.25 575.21,786.46 572.77,788.68 570.27,790.92 567.72,793.18 565.10,795.46 562.43,797.76 559.71,800.07 556.93,802.40 554.09,804.74 551.20,807.10 548.26,809.47 545.27,811.86 542.22,814.25 539.13,816.66 535.98,819.08 532.79,821.50 529.55,823.94 526.27,826.39 522.94,828.84 519.56,831.30 516.15,833.77 512.69,836.24 509.19,838.71 505.65,841.20 502.07,843.68 498.45,846.16 494.80,848.65 491.11,851.14 487.38,853.63 483.63,856.12 479.84,858.60 476.02,861.09 472.17,863.57 468.29,866.05 464.39,868.52 460.46,870.99 456.50,873.45 452.52,875.91 448.52,878.36 444.49,880.80 440.45,883.23 436.38,885.65 432.30,888.07 428.20,890.47 424.09,892.85 419.96,895.23 415.82,897.59 411.67,899.94 407.51,902.28 403.34,904.60 399.16,906.90 394.98,909.18 390.79,911.45 386.59,913.70 382.40,915.93 378.20,918.14 374.00,920.34 369.81,922.51 365.61,924.66 361.42,926.78 357.24,928.89 353.06,930.97 348.89,933.02 344.73,935.05 340.58,937.06 336.44,939.04 332.31,940.99 328.20,942.92 324.10,944.82 320.02,946.69 315.95,948.53 311.91,950.34 307.88,952.12 303.88,953.87 299.90,955.59 295.94,957.28 292.01,958.93 288.11,960.55 284.23,962.14 280.38,963.70 276.56,965.22 272.77,966.71 269.02,968.16 265.29,969.58 261.60,970.96 257.95,972.30 254.33,973.61 250.75,974.88 247.21,976.12 243.71,977.31 240.25,978.47 236.84,979.59 233.46,980.67 230.13,981.71 226.85,982.71 223.61,983.67 220.42,984.59 217.27,985.47 214.18,986.31 211.13,987.10 208.14,987.86 205.20,988.57 202.31,989.25 199.47,989.88 196.69,990.47 193.97,991.02 191.30,991.52 188.68,991.98 186.13,992.40 183.63,992.78 181.19,993.11 178.82,993.40 176.50,993.65 174.24,993.85 172.05,994.01 169.92,994.13 167.85,994.21 165.85,994.24 163.91,994.22 162.04,994.17 160.23,994.07 158.49,993.92 156.82,993.74 155.21,993.51 153.67,993.23 152.20,992.92 150.80,992.56 149.47,992.16 148.21,991.71 147.02,991.22 145.89,990.69 144.84,990.12 143.86,989.51 142.96,988.85 142.12,988.15 141.35,987.41 140.66,986.63 140.04,985.81 139.49,984.94 139.02,984.04 138.62,983.09 138.29,982.11 138.03,981.09 137.85,980.02 137.74,978.92 137.70,977.78 137.74,976.60 137.85,975.38 138.03,974.12 138.29,972.83 138.62,971.50 139.02,970.14 139.49,968.73 140.04,967.30 140.66,965.82 141.35,964.31 142.12,962.77 142.96,961.19 143.86,959.58 144.84,957.94 145.89,956.27 147.02,954.56 148.21,952.82 149.47,951.05 150.80,949.25 152.20,947.43 153.67,945.57 155.21,943.68 156.82,941.77 158.49,939.82 160.23,937.85 162.04,935.86 163.91,933.84 165.85,931.79 167.85,929.72 169.92,927.63 172.05,925.51 174.24,923.37 176.50,921.21 178.82,919.02 181.19,916.82 183.63,914.60 186.13,912.35 188.68,910.09 191.30,907.81 193.97,905.52 196.69,903.21 199.47,900.88 202.31,898.53 205.20,896.18 208.14,893.81 211.13,891.42 214.18,889.03 217.27,886.62 220.42,884.20 223.61,881.77 226.85,879.34 230.13,876.89 233.46,874.44 236.84,871.98 240.25,869.51 243.71,867.04 247.21,864.56 250.75,862.08 254.33,859.60 257.95,857.11 261.60,854.63 265.29,852.14 269.02,849.65 272.77,847.16 276.56,844.67 280.38,842.19 284.23,839.71 288.11,837.23 292.01,834.75 295.94,832.29 299.90,829.82 303.88,827.37 307.88,824.92 311.91,822.48 315.95,820.05 320.02,817.62 324.10,815.21 328.20,812.81 332.31,810.42 336.44,808.05 340.58,805.68 344.73,803.34 348.89,801.00 353.06,798.68 357.24,796.38 361.42,794.09 365.61,791.83 369.81,789.58 374.00,787.34 378.20,785.13" fill="none" stroke="#ff0000" stroke-width="4.1" stroke-linejoin="round" stroke-linecap="round"/>
<polyline points="378.20,798.16 382.52,796.41 386.84,794.68 391.15,792.97 395.46,791.28 399.77,789.60 404.07,787.95 408.36,786.31 412.64,784.69 416.91,783.09 421.17,781.52 425.42,779.96 429.65,778.43 433.87,776.92 438.07,775.43 442.25,773.96 446.41,772.52 450.55,771.10 454.67,769.71 458.77,768.34 462.84,766.99 466.89,765.68 470.91,764.38 474.90,763.12 478.86,761.88 482.79,760.67 486.69,759.48 490.55,758.33 494.38,757.20 498.18,756.10 501.94,755.03 505.66,753.98 509.34,752.97 512.98,751.99 516.59,751.04 520.15,750.12 523.66,749.23 527.13,748.37 530.56,747.54 533.94,746.74 537.27,745.98 540.56,745.25 543.79,744.55 546.98,743.88 550.11,743.24 553.19,742.64 556.22,742.07 559.19,741.53 562.11,741.03 564.97,740.56 567.78,740.13 570.52,739.72 573.21,739.36 575.84,739.02 578.41,738.72 580.92,738.46 583.37,738.22 585.75,738.03 588.07,737.87 590.33,737.74 592.52,737.64 594.65,737.59 596.71,737.56 598.70,737.57 600.63,737.62 602.49,737.70 604.28,737.81 606.00,737.96 607.65,738.14 609.24,738.36 610.75,738.61 612.19,738.90 613.56,739.22 614.86,739.57 616.09,739.96 617.24,740.38 618.32,740.84 619.33,741.33 620.27,741.85 621.13,742.41 621.91,743.00 622.63,743.62 623.27,744.27 623.83,744.96 624.32,745.68 624.73,746.43 625.07,747.22 625.34,748.03 625.52,748.88 625.64,749.76 625.67,750.67 625.64,751.61 625.52,752.58 625.34,753.58 625.07,754.61 624.73,755.67 624.32,756.75 623.83,757.87 623.27,759.02 622.63,760.19 621.91,761.39 621.13,762.62 620.27,763.87 619.33,765.16 618.32,766.46 617.24,767.80 616.09,769.16 614.86,770.54 613.56,771.95 612.19,773.38 610.75,774.84 609.24,776.32 607.65,777.82 606.00,779.35 604.28,780.89 602.49,782.46 600.63,784.05 598.70,785.66 596.71,787.29 594.65,788.94 592.52,790.61 590.33,792.29 588.07,794.00 585.75,795.72 583.37,797.46 580.92,799.21 578.41,800.98 575.84,802.77 573.21,804.57 570.52,806.38 567.78,808.21 564.97,810.05 562.11,811.91 559.19,813.77 556.22,815.65 553.19,817.54 550.11,819.44 546.98,821.34 543.79,823.26 540.56,825.19 537.27,827.12 533.94,829.06 530.56,831.01 527.13,832.96 523.66,834.92 520.15,836.88 516.59,838.85 512.98,840.83 509.34,842.80 505.66,844.78 501.94,846.76 498.18,848.74 494.38,850.72 490.55,852.70 486.69,854.68 482.79,856.66 478.86,858.64 474.90,860.62 470.91,862.59 466.89,864.56 462.84,866.53 458.77,868.49 454.67,870.45 450.55,872.40 446.41,874.34 442.25,876.28 438.07,878.20 433.87,880.12 429.65,882.04 425.42,883.94 421.17,885.83 416.91,887.71 412.64,889.58 408.36,891.44 404.07,893.29 399.77,895.12 395.46,896.94 391.15,898.75 386.84,900.54 382.52,902.32 378.20,904.08 373.88,905.82 369.56,907.55 365.25,909.26 360.94,910.96 356.63,912.63 352.33,914.29 348.04,915.93 343.76,917.54 339.49,919.14 335.23,920.72 330.98,922.27 326.75,923.81 322.53,925.32 318.33,926.81 314.15,928.27 309.99,929.71 305.85,931.13 301.73,932.53 297.63,933.90 293.56,935.24 289.51,936.56 285.49,937.85 281.50,939.12 277.54,940.36 273.61,941.57 269.71,942.75 265.85,943.91 262.02,945.04 258.22,946.14 254.46,947.21 250.74,948.25 247.06,949.26 243.42,950.24 239.81,951.20 236.25,952.12 232.74,953.01 229.27,953.87 225.84,954.69 222.46,955.49 219.13,956.26 215.84,956.99 212.61,957.69 209.42,958.36 206.29,958.99 203.21,959.60 200.18,960.17 197.21,960.70 194.29,961.20 191.43,961.67 188.62,962.11 185.88,962.51 183.19,962.88 180.56,963.21 177.99,963.51 175.48,963.78 173.03,964.01 170.65,964.21 168.33,964.37 166.07,964.50 163.88,964.59 161.75,964.65 159.69,964.67 157.70,964.66 155.77,964.62 153.91,964.54 152.12,964.42 150.40,964.28 148.75,964.09 147.16,963.88 145.65,963.62 144.21,963.34 142.84,963.02 141.54,962.66 140.31,962.27 139.16,961.85 138.08,961.40 137.07,960.91 136.13,960.38 135.27,959.83 134.49,959.24 133.77,958.62 133.13,957.96 132.57,957.27 132.08,956.55 131.67,955.80 131.33,955.02 131.06,954.20 130.88,953.35 130.76,952.48 130.73,951.57 130.76,950.63 130.88,949.66 131.06,948.66 131.33,947.63 131.67,946.57 132.08,945.48 132.57,944.36 133.13,943.22 133.77,942.05 134.49,940.84 135.27,939.62 136.13,938.36 137.07,937.08 138.08,935.77 139.16,934.44 140.31,933.08 141.54,931.69 142.84,930.29 144.21,928.85 145.65,927.40 147.16,925.92 148.75,924.41 150.40,922.89 152.12,921.34 153.91,919.77 155.77,918.18 157.70,916.58 159.69,914.95 161.75,913.30 163.88,911.63 166.07,909.94 168.33,908.24 170.65,906.52 173.03,904.78 175.48,903.02 177.99,901.25 180.56,899.47 183.19,897.67 185.88,895.85 188.62,894.02 191.43,892.18 194.29,890.33 197.21,888.46 200.18,886.59 203.21,884.70 206.29,882.80 209.42,880.89 212.61,878.97 215.84,877.05 219.13,875.11 222.46,873.17 225.84,871.23 229.27,869.27 232.74,867.31 236.25,865.35 239.81,863.38 243.42,861.41 247.06,859.43 250.74,857.46 254.46,855.48 258.22,853.50 262.02,851.51 265.85,849.53 269.71,847.55 273.61,845.57 277.54,843.59 281.50,841.62 285.49,839.64 289.51,837.67 293.56,835.71 297.63,833.74 301.73,831.79 305.85,829.84 309.99,827.90 314.15,825.96 318.33,824.03 322.53,822.11 326.75,820.20 330.98,818.30 335.23,816.40 339.49,814.52 343.76,812.65 348.04,810.79 352.33,808.95 356.63,807.11 360.94,805.29 365.25,803.49 369.56,801.69 373.88,799.92 378.20,798.16" fill="none" stroke="#000000" stroke-width="4.1" stroke-linejoin="round" stroke-linecap="round"/>
<line x1="89.50" y1="592.40" x2="666.80" y2="592.40" stroke="#000" stroke-width="1.7" stroke-linecap="butt"/>
<line x1="666.80" y1="592.40" x2="666.80" y2="1058.60" stroke="#000" stroke-width="1.7" stroke-linecap="butt"/>
<line x1="89.50" y1="591.55" x2="89.50" y2="1059.60" stroke="#000" stroke-width="2.1" stroke-linecap="butt"/>
<line x1="88.50" y1="1058.60" x2="667.65" y2="1058.60" stroke="#000" stroke-width="2.1" stroke-linecap="butt"/>
<line x1="89.50" y1="641.22" x2="98.00" y2="641.22" stroke="#000" stroke-width="1.8" stroke-linecap="butt"/>
<text x="49.97" y="649.22" style='font-family:"Liberation Sans", sans-serif' font-size="27.60" textLength="29.36" lengthAdjust="spacingAndGlyphs" fill="#000" stroke="#000" stroke-width="0.1">60</text>
<line x1="89.50" y1="693.39" x2="98.00" y2="693.39" stroke="#000" stroke-width="1.8" stroke-linecap="butt"/>
<text x="50.04" y="701.39" style='font-family:"Liberation Sans", sans-serif' font-size="27.60" textLength="29.36" lengthAdjust="spacingAndGlyphs" fill="#000" stroke="#000" stroke-width="0.1">45</text>
<line x1="89.50" y1="745.56" x2="98.00" y2="745.56" stroke="#000" stroke-width="1.8" stroke-linecap="butt"/>
<text x="49.97" y="753.56" style='font-family:"Liberation Sans", sans-serif' font-size="27.60" textLength="29.36" lengthAdjust="spacingAndGlyphs" fill="#000" stroke="#000" stroke-width="0.1">30</text>
<line x1="89.50" y1="797.73" x2="98.00" y2="797.73" stroke="#000" stroke-width="1.8" stroke-linecap="butt"/>
<text x="50.04" y="805.73" style='font-family:"Liberation Sans", sans-serif' font-size="27.60" textLength="29.36" lengthAdjust="spacingAndGlyphs" fill="#000" stroke="#000" stroke-width="0.1">15</text>
<line x1="89.50" y1="849.90" x2="98.00" y2="849.90" stroke="#000" stroke-width="1.8" stroke-linecap="butt"/>
<text x="64.65" y="857.90" style='font-family:"Liberation Sans", sans-serif' font-size="27.60" textLength="14.68" lengthAdjust="spacingAndGlyphs" fill="#000" stroke="#000" stroke-width="0.1">0</text>
<line x1="89.50" y1="902.07" x2="98.00" y2="902.07" stroke="#000" stroke-width="1.8" stroke-linecap="butt"/>
<text x="41.25" y="910.07" style='font-family:"Liberation Sans", sans-serif' font-size="27.60" textLength="38.16" lengthAdjust="spacingAndGlyphs" fill="#000" stroke="#000" stroke-width="0.1">-15</text>
<line x1="89.50" y1="954.24" x2="98.00" y2="954.24" stroke="#000" stroke-width="1.8" stroke-linecap="butt"/>
<text x="41.18" y="962.24" style='font-family:"Liberation Sans", sans-serif' font-size="27.60" textLength="38.16" lengthAdjust="spacingAndGlyphs" fill="#000" stroke="#000" stroke-width="0.1">-30</text>
<line x1="89.50" y1="1006.41" x2="98.00" y2="1006.41" stroke="#000" stroke-width="1.8" stroke-linecap="butt"/>
<text x="41.25" y="1014.41" style='font-family:"Liberation Sans", sans-serif' font-size="27.60" textLength="38.16" lengthAdjust="spacingAndGlyphs" fill="#000" stroke="#000" stroke-width="0.1">-45</text>
<text x="41.18" y="1066.58" style='font-family:"Liberation Sans", sans-serif' font-size="27.60" textLength="38.16" lengthAdjust="spacingAndGlyphs" fill="#000" stroke="#000" stroke-width="0.1">-60</text>
<text x="77.86" y="1089.80" style='font-family:"Liberation Sans", sans-serif' font-size="27.60" textLength="23.47" lengthAdjust="spacingAndGlyphs" fill="#000" stroke="#000" stroke-width="0.1">-6</text>
<line x1="137.70" y1="1058.60" x2="137.70" y2="1054.10" stroke="#000" stroke-width="1.8" stroke-linecap="butt"/>
<line x1="185.80" y1="1058.60" x2="185.80" y2="1049.60" stroke="#000" stroke-width="1.8" stroke-linecap="butt"/>
<text x="173.86" y="1089.80" style='font-family:"Liberation Sans", sans-serif' font-size="27.60" textLength="23.47" lengthAdjust="spacingAndGlyphs" fill="#000" stroke="#000" stroke-width="0.1">-4</text>
<line x1="233.90" y1="1058.60" x2="233.90" y2="1054.10" stroke="#000" stroke-width="1.8" stroke-linecap="butt"/>
<line x1="282.00" y1="1058.60" x2="282.00" y2="1049.60" stroke="#000" stroke-width="1.8" stroke-linecap="butt"/>
<text x="270.34" y="1089.80" style='font-family:"Liberation Sans", sans-serif' font-size="27.60" textLength="23.47" lengthAdjust="spacingAndGlyphs" fill="#000" stroke="#000" stroke-width="0.1">-2</text>
<line x1="330.10" y1="1058.60" x2="330.10" y2="1054.10" stroke="#000" stroke-width="1.8" stroke-linecap="butt"/>
<line x1="378.20" y1="1058.60" x2="378.20" y2="1049.60" stroke="#000" stroke-width="1.8" stroke-linecap="butt"/>
<text x="370.86" y="1089.80" style='font-family:"Liberation Sans", sans-serif' font-size="27.60" textLength="14.68" lengthAdjust="spacingAndGlyphs" fill="#000" stroke="#000" stroke-width="0.1">0</text>
<line x1="426.30" y1="1058.60" x2="426.30" y2="1054.10" stroke="#000" stroke-width="1.8" stroke-linecap="butt"/>
<line x1="474.40" y1="1058.60" x2="474.40" y2="1049.60" stroke="#000" stroke-width="1.8" stroke-linecap="butt"/>
<text x="467.06" y="1089.80" style='font-family:"Liberation Sans", sans-serif' font-size="27.60" textLength="14.68" lengthAdjust="spacingAndGlyphs" fill="#000" stroke="#000" stroke-width="0.1">2</text>
<line x1="522.50" y1="1058.60" x2="522.50" y2="1054.10" stroke="#000" stroke-width="1.8" stroke-linecap="butt"/>
<line x1="570.60" y1="1058.60" x2="570.60" y2="1049.60" stroke="#000" stroke-width="1.8" stroke-linecap="butt"/>
<text x="563.34" y="1089.80" style='font-family:"Liberation Sans", sans-serif' font-size="27.60" textLength="14.68" lengthAdjust="spacingAndGlyphs" fill="#000" stroke="#000" stroke-width="0.1">4</text>
<line x1="618.70" y1="1058.60" x2="618.70" y2="1054.10" stroke="#000" stroke-width="1.8" stroke-linecap="butt"/>
<text x="659.37" y="1089.80" style='font-family:"Liberation Sans", sans-serif' font-size="27.60" textLength="14.68" lengthAdjust="spacingAndGlyphs" fill="#000" stroke="#000" stroke-width="0.1">6</text>
<text x="266.58" y="1133.30" style='font-family:"Liberation Sans", sans-serif' font-size="26.60" textLength="222.71" lengthAdjust="spacingAndGlyphs" fill="#000" stroke="#000" stroke-width="0.1">Displacement (μm)</text>
<text transform="translate(24.00,880.86) rotate(-90)" x="0" y="0" style='font-family:"Liberation Sans", sans-serif' font-size="26.40" textLength="111.30" lengthAdjust="spacingAndGlyphs" fill="#000" stroke="#000" stroke-width="0.1">Force (N)</text>
<rect x="105.80" y="602.70" width="402.20" height="95.00" stroke="#4c4c4c" stroke-width="1.2" fill="none"/>
<line x1="109.80" y1="620.00" x2="164.40" y2="620.00" stroke="#000000" stroke-width="3.5" stroke-linecap="round"/>
<line x1="109.80" y1="650.40" x2="164.40" y2="650.40" stroke="#ff0000" stroke-width="3.5" stroke-linecap="round"/>
<line x1="109.80" y1="680.80" x2="164.40" y2="680.80" stroke="#0063ad" stroke-width="3.5" stroke-linecap="round"/>
<text x="170.96" y="628.40" style='font-family:"Liberation Sans", sans-serif' font-size="24.90" textLength="334.48" lengthAdjust="spacingAndGlyphs" fill="#000" stroke="#000" stroke-width="0.1">Diaphragms thickness 0.2 mm</text>
<text x="170.96" y="658.60" style='font-family:"Liberation Sans", sans-serif' font-size="24.90" textLength="334.48" lengthAdjust="spacingAndGlyphs" fill="#000" stroke="#000" stroke-width="0.1">Diaphragms thickness 0.3 mm</text>
<text x="170.96" y="688.80" style='font-family:"Liberation Sans", sans-serif' font-size="24.90" textLength="327.57" lengthAdjust="spacingAndGlyphs" fill="#000" stroke="#000" stroke-width="0.1">Diaphragms thickness 0.5mm</text>
<rect x="542.50" y="923.50" width="110.30" height="34.20" stroke="#4c4c4c" stroke-width="1.2" fill="none"/>
<text x="544.54" y="948.90" style='font-family:"Liberation Sans", sans-serif' font-size="25.40" textLength="82.27" lengthAdjust="spacingAndGlyphs" fill="#000" stroke="#000" stroke-width="0.1">Moudle</text>
<text x="633.03" y="949.00" style='font-family:"Liberation Serif", serif' font-size="26.70" textLength="8.91" lengthAdjust="spacingAndGlyphs" fill="#000" stroke="#000" stroke-width="0.1">I</text>
<text x="640.73" y="949.00" style='font-family:"Liberation Serif", serif' font-size="26.70" textLength="8.91" lengthAdjust="spacingAndGlyphs" fill="#000" stroke="#000" stroke-width="0.1">I</text>
<rect x="341.80" y="976.80" width="308.00" height="65.10" stroke="#4c4c4c" stroke-width="1.2" fill="none"/>
<text x="345.79" y="1002.20" style='font-family:"Liberation Sans", sans-serif' font-size="24.60" textLength="143.36" lengthAdjust="spacingAndGlyphs" fill="#000" stroke="#000" stroke-width="0.1">Viscosity 500</text>
<text x="498.20" y="1002.20" style='font-family:"Liberation Serif", serif' font-size="23.80" textLength="60.37" lengthAdjust="spacingAndGlyphs" fill="#000" stroke="#000" stroke-width="0.1">mm²/s</text>
<text x="344.36" y="1032.60" style='font-family:"Liberation Sans", sans-serif' font-size="24.60" textLength="302.27" lengthAdjust="spacingAndGlyphs" fill="#000" stroke="#000" stroke-width="0.1">Excitation frequency 100Hz</text>
<text x="51.05" y="1173.80" style='font-family:"Liberation Serif", serif' font-size="32.70" textLength="570.66" lengthAdjust="spacingAndGlyphs" fill="#000" stroke="#000" stroke-width="0.1">(b) Excitation force versus displacement</text>
</svg>
</body></html>
